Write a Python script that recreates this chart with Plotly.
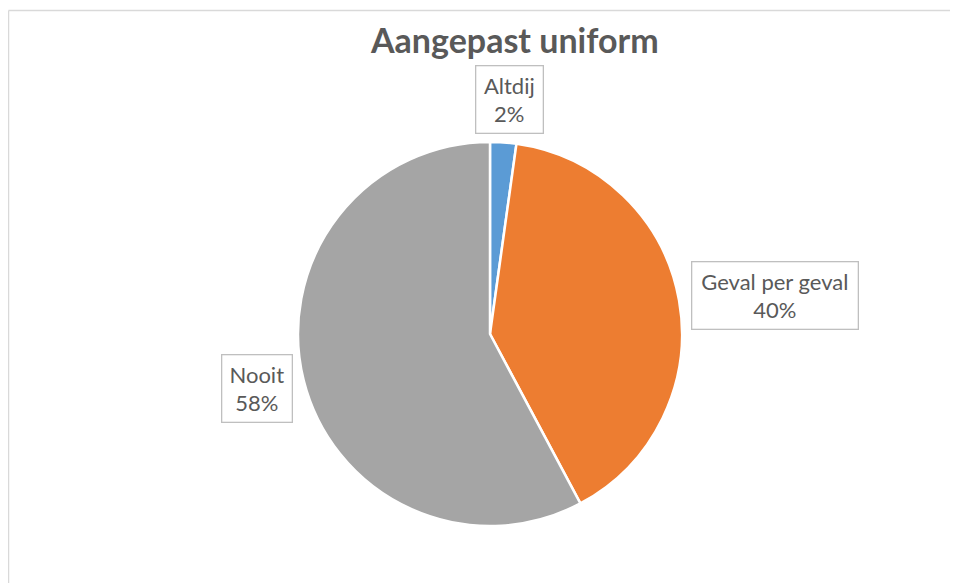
import plotly.graph_objects as go

categories = ["Altdij", "Geval per geval", "Nooit"]
values = [2.2, 40.0, 57.8]
colors = ["#5B9BD5", "#ED7D31", "#A5A5A5"]
title_text = "Aangepast uniform"

# figure sits inside the page with the default 8px body margin
OFF = 8
W, H = 950, 575

def px(x):
    return (x - OFF) / W

def py(y):
    return 1 - (y - OFF) / H

fig = go.Figure()
fig.add_trace(go.Pie(
    labels=categories,
    values=values,
    sort=False,
    direction="clockwise",
    rotation=0,
    marker=dict(colors=colors, line=dict(color="white", width=2.5)),
    textinfo="none",
    hoverinfo="label+percent",
    showlegend=False,
    domain=dict(x=[px(298), px(682)], y=[py(526), py(142)]),
))

# label boxes (center x, center y, width, height) in page pixels
label_boxes = [(509.5, 99.5, 66, 66), (775, 295.5, 165, 66), (257, 388.5, 69, 66)]
total = sum(values)
for cat, val, (cx, cy, bw, bh) in zip(categories, values, label_boxes):
    pct = round(100 * val / total)
    fig.add_annotation(
        x=px(cx), y=py(cy), xref="paper", yref="paper",
        text=f"{cat}<br>{pct}%",
        showarrow=False,
        font=dict(family="Lato", size=22, color="#595959"),
        bordercolor="#BFBFBF", borderwidth=1.3, borderpad=0,
        bgcolor="white",
        width=bw, height=bh,
        xanchor="center", yanchor="middle", align="center",
    )

fig.add_annotation(
    x=px(514), y=py(39), xref="paper", yref="paper",
    text=f"<b>{title_text}</b>", showarrow=False,
    font=dict(family="Lato", size=34, color="#595959"),
    xanchor="center", yanchor="middle",
)

# chart area border
fig.add_shape(type="line", xref="paper", yref="paper",
              x0=px(8.5), x1=1.02, y0=py(10.5), y1=py(10.5),
              line=dict(color="#D9D9D9", width=1.5))
fig.add_shape(type="line", xref="paper", yref="paper",
              x0=px(8.5), x1=px(8.5), y0=py(10.5), y1=-0.02,
              line=dict(color="#D9D9D9", width=1.5))

fig.update_layout(
    width=W, height=H,
    margin=dict(l=0, r=0, t=0, b=0),
    paper_bgcolor="white",
    plot_bgcolor="white",
)

fig.write_html("out.html")
